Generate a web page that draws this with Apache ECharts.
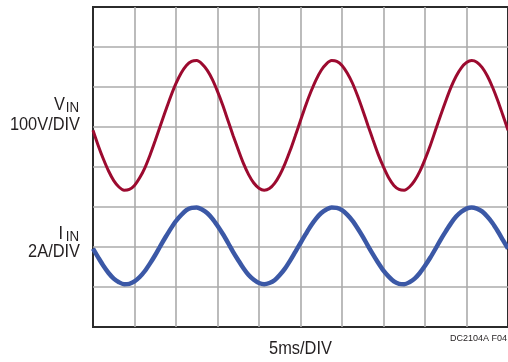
<!DOCTYPE html>
<html><head><meta charset="utf-8">
<script src="https://cdn.jsdelivr.net/npm/echarts@6/dist/echarts.min.js"></script>
<style>html,body{margin:0;padding:0;background:#fff}#c{width:508px;height:362px}</style>
</head><body><div id="c"></div>
<script>
// time in divisions (5ms/DIV)
const timeDiv = [0,0.125,0.25,0.375,0.5,0.625,0.75,0.875,1,1.125,1.25,1.375,1.5,1.625,1.75,1.875,2,2.125,2.25,2.375,2.5,2.625,2.75,2.875,3,3.125,3.25,3.375,3.5,3.625,3.75,3.875,4,4.125,4.25,4.375,4.5,4.625,4.75,4.875,5,5.125,5.25,5.375,5.5,5.625,5.75,5.875,6,6.125,6.25,6.375,6.5,6.625,6.75,6.875,7,7.125,7.25,7.375,7.5,7.625,7.75,7.875,8,8.125,8.25,8.375,8.5,8.625,8.75,8.875,9,9.125,9.25,9.375,9.5,9.625,9.75,9.875,10];
// VIN trace position (divisions from bottom)
const vinDiv = [4.92,4.54,4.20,3.90,3.66,3.50,3.42,3.44,3.54,3.73,3.98,4.30,4.66,5.04,5.41,5.77,6.09,6.35,6.54,6.64,6.66,6.58,6.42,6.19,5.89,5.55,5.17,4.79,4.43,4.09,3.81,3.60,3.47,3.42,3.46,3.59,3.80,4.08,4.41,4.78,5.16,5.54,5.88,6.18,6.42,6.58,6.66,6.64,6.54,6.35,6.10,5.78,5.42,5.04,4.67,4.31,4.00,3.73,3.54,3.44,3.42,3.50,3.66,3.89,4.19,4.53,4.91,5.29,5.65,5.99,6.27,6.48,6.61,6.66,6.62,6.49,6.28,6.00,5.67,5.30,4.92];
// IIN trace position (divisions from bottom)
const iinDiv = [1.96,1.74,1.53,1.35,1.21,1.12,1.07,1.08,1.14,1.25,1.40,1.59,1.80,2.03,2.25,2.46,2.65,2.80,2.92,2.98,2.99,2.94,2.85,2.71,2.53,2.33,2.11,1.88,1.67,1.47,1.30,1.18,1.10,1.07,1.10,1.17,1.30,1.46,1.66,1.88,2.10,2.32,2.53,2.71,2.85,2.94,2.99,2.98,2.92,2.81,2.66,2.47,2.26,2.03,1.81,1.60,1.41,1.26,1.14,1.08,1.07,1.12,1.21,1.35,1.53,1.73,1.95,2.18,2.39,2.59,2.76,2.88,2.96,2.99,2.96,2.89,2.76,2.60,2.40,2.18,1.96];

const FONT = "'Liberation Sans',Arial,sans-serif";
const chart = echarts.init(document.getElementById('c'), null, {renderer:'canvas'});
const gridCol = '#ababab';
function txt(text, x, y, size, align, sx){
  return {type:'text', x:x, y:y, scaleX: sx || 1, silent:true, z:10,
    style:{text:text, fill:'#231f20', font: size+'px '+FONT, align:align, verticalAlign:'middle'}};
}
chart.setOption({
  animation:false,
  backgroundColor:'#fff',
  grid:{left:93, top:7, width:416, height:320, show:true, borderColor:'#2b2b2b', borderWidth:2, backgroundColor:'transparent'},
  xAxis:{type:'value', min:0, max:10, interval:1,
    axisLine:{show:false}, axisTick:{show:false}, axisLabel:{show:false},
    splitLine:{show:true, showMinLine:false, showMaxLine:false, lineStyle:{color:gridCol, width:1.6}}},
  yAxis:{type:'value', min:0, max:8, interval:1,
    axisLine:{show:false}, axisTick:{show:false}, axisLabel:{show:false},
    splitLine:{show:true, showMinLine:false, showMaxLine:false, lineStyle:{color:gridCol, width:1.6}}},
  series:[
    {type:'line', smooth:0.3, symbol:'none', data: timeDiv.map((t,i)=>[t, vinDiv[i]]),
      lineStyle:{color:'#9c0a2f', width:3}, z:3},
    {type:'line', smooth:0.3, symbol:'none', data: timeDiv.map((t,i)=>[t, iinDiv[i]]),
      lineStyle:{color:'#3b58a6', width:4.5}, z:3}
  ],
  graphic:[
    txt('V', 65, 105, 18, 'right', 0.91),
    txt('IN', 79, 108.5, 14, 'right', 0.95),
    txt('100V/DIV', 80, 125.5, 18, 'right', 0.91),
    txt('I', 63, 234.5, 18, 'right', 0.91),
    txt('IN', 79, 237.5, 14, 'right', 0.95),
    txt('2A/DIV', 80, 252.5, 18, 'right', 0.91),
    txt('5ms/DIV', 300.5, 349, 18, 'center', 0.91),
    txt('DC2104A F04', 507, 339, 9, 'right')
  ]
});
</script></body></html>
